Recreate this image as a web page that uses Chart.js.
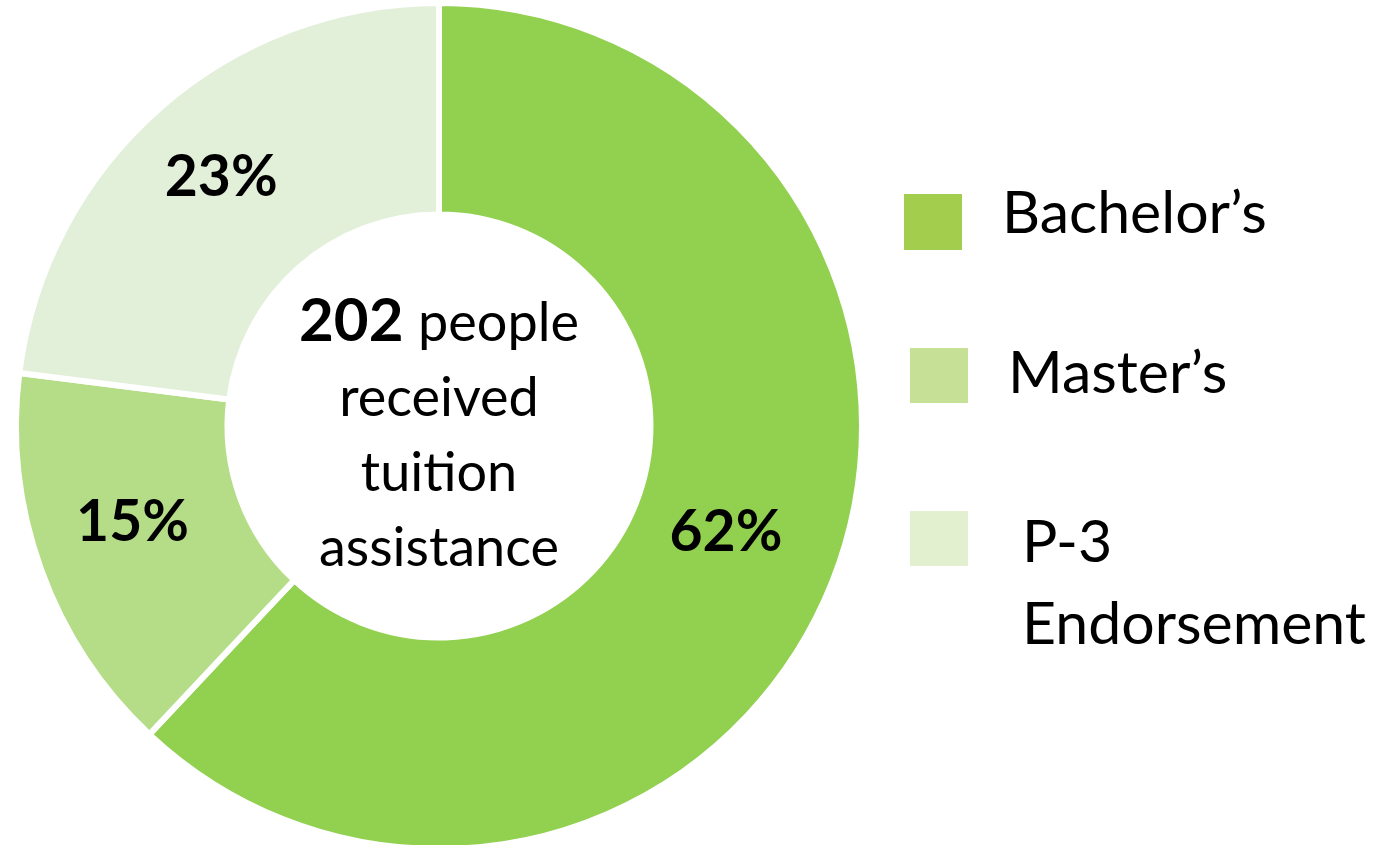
<!DOCTYPE html>
<html>
<head>
<meta charset="utf-8">
<title>Tuition assistance</title>
<script src="https://cdn.jsdelivr.net/npm/chart.js@4"></script>
<style>
  html, body { margin: 0; padding: 0; background: #fff; overflow: hidden; }
  #wrap { width: 1391px; height: 845px; overflow: hidden; }
</style>
</head>
<body>
<!-- canvas is a little taller than the page so the ring can run off the bottom -->
<div id="wrap"><canvas id="tuitionChart" width="1391" height="860"></canvas></div>
<script>
const DEGREE_LABELS = ["Bachelor’s", "Master’s", "P-3 Endorsement"];
const DEGREE_SHARES = [62, 15, 23];
const TOTAL_PEOPLE = 202;
const CENTER_LINES = ["people", "received", "tuition", "assistance"];

const SLICE_COLORS = ["#92d050", "#b5dd88", "#e2efd9"];
const KEY_COLORS = ["#a2cd4d", "#c6e095", "#e2f0d0"];
const FONT = "Lato, 'Open Sans', sans-serif";

// legend rows: box position and text lines (P-3 wraps onto two lines)
const KEY_ROWS = [
  { box: [904, 194, 58, 56], x: 1002, lines: ["Bachelor’s"], base: 233 },
  { box: [910, 348, 58, 55], x: 1008, lines: ["Master’s"], base: 393 },
  { box: [910, 511, 58, 55], x: 1022, lines: ["P-3", "Endorsement"], base: 562 },
];

const overlay = {
  id: "overlay",
  afterDatasetsDraw(chart) {
    const ctx = chart.ctx;
    const arcs = chart.getDatasetMeta(0).data;
    ctx.save();
    ctx.fillStyle = "#000";

    // percentage labels in the middle of each ring segment
    ctx.font = `bold 57px ${FONT}`;
    ctx.textAlign = "center";
    ctx.textBaseline = "alphabetic";
    arcs.forEach((arc, i) => {
      const p = arc.getProps(["x", "y", "startAngle", "endAngle", "innerRadius", "outerRadius"], true);
      const a = (p.startAngle + p.endAngle) / 2;
      const r = (p.innerRadius + p.outerRadius) / 2;
      const x = p.x + Math.cos(a) * r;
      const y = p.y + Math.sin(a) * r;
      ctx.fillText(DEGREE_SHARES[i] + "%", x - 8, y + 8);
    });

    // centre caption
    const cx = arcs[0].x, cy = arcs[0].y;
    const lineGap = 75;
    const top = cy - 85;
    ctx.textAlign = "left";
    const bold = `bold 60px ${FONT}`;
    const reg = `54px ${FONT}`;
    ctx.font = bold;
    const numW = ctx.measureText(String(TOTAL_PEOPLE) + " ").width;
    ctx.font = reg;
    const restW = ctx.measureText(CENTER_LINES[0]).width;
    const x0 = cx - (numW + restW) / 2;
    ctx.font = bold;
    ctx.fillText(String(TOTAL_PEOPLE), x0, top);
    ctx.font = reg;
    ctx.fillText(CENTER_LINES[0], x0 + numW, top);
    ctx.textAlign = "center";
    CENTER_LINES.slice(1).forEach((t, i) => {
      ctx.fillText(t, cx, top + lineGap * (i + 1));
    });

    // legend
    ctx.textAlign = "left";
    ctx.font = `59px ${FONT}`;
    KEY_ROWS.forEach((row, i) => {
      ctx.fillStyle = KEY_COLORS[i];
      ctx.fillRect(...row.box);
      ctx.fillStyle = "#000";
      row.lines.forEach((t, j) => ctx.fillText(t, row.x, row.base + j * 82));
    });
    ctx.restore();
  },
};

new Chart(document.getElementById("tuitionChart"), {
  type: "doughnut",
  data: {
    labels: DEGREE_LABELS,
    datasets: [{
      data: DEGREE_SHARES,
      backgroundColor: SLICE_COLORS,
      borderColor: "#fff",
      borderWidth: 6,
      hoverOffset: 0,
    }],
  },
  options: {
    responsive: false,
    animation: false,
    cutout: "50%",
    layout: { padding: { left: 13, top: 0, right: 526, bottom: 8 } },
    plugins: { legend: { display: false }, tooltip: { enabled: false } },
  },
  plugins: [overlay],
});
</script>
</body>
</html>
